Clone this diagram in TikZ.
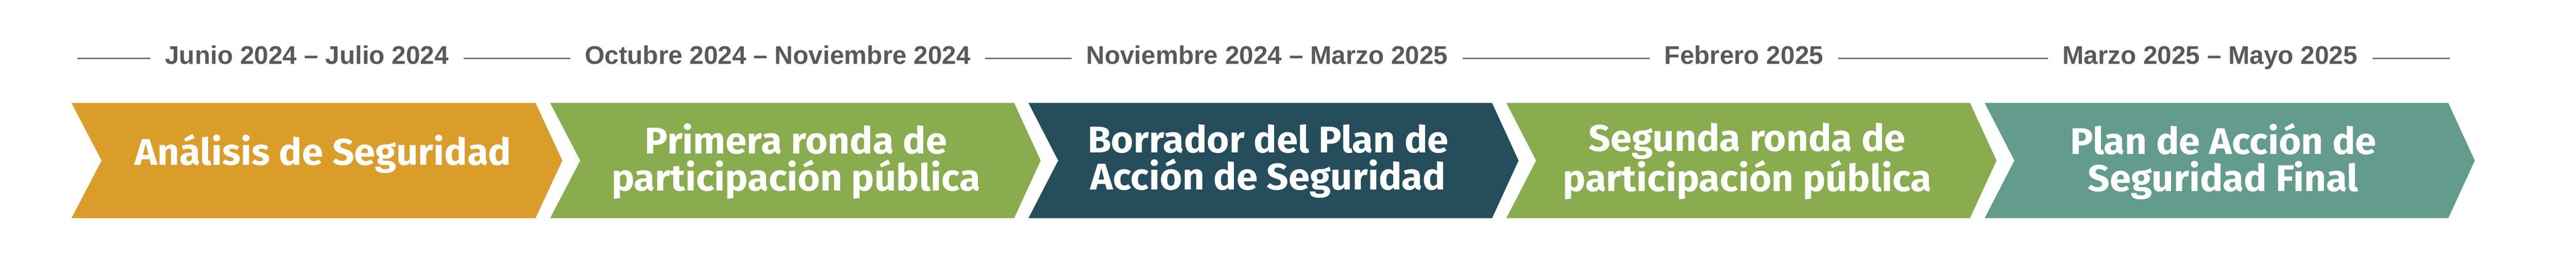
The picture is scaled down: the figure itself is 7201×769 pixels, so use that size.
\documentclass[tikz,border=0pt]{standalone}
\usepackage{fontspec}
\setmainfont{Liberation Sans}
\newfontfamily\stepfont{Fira Sans}[FakeStretch=1.03]
\usetikzlibrary{calc}

\definecolor{ochre}{RGB}{219,157,42}
\definecolor{leaf}{RGB}{136,172,78}
\definecolor{slate}{RGB}{37,77,92}
\definecolor{sage}{RGB}{99,156,140}
\definecolor{datefg}{RGB}{88,89,91}
\definecolor{rulefg}{RGB}{120,120,123}

\tikzset{
	steptext/.style={text=white, align=center, inner sep=0pt, font=\stepfont\bfseries\fontsize{29.6}{29.6}\selectfont},
	datetext/.style={anchor=base, text=datefg, fill=white, inner xsep=4.1mm, inner ysep=0pt, font=\bfseries\fontsize{20.3}{22}\selectfont},
}

\begin{document}
\begin{tikzpicture}[x=0.1mm, y=-0.1mm]
			%%%%% START %%%%%
			
			\useasboundingbox (0, 0) rectangle (7201, 769);
			
			% timeline rule
			\coordinate (rule west) at (216, 163);
			\coordinate (rule east) at (6848, 163);
			\draw[line width=0.45mm, color=rulefg] (rule west) -- (rule east);
			
			% chevrons
			\fill[ochre] (200, 288) -- (1497, 288) -- (1572, 449) -- (1497, 610) -- (200, 610) -- (284, 449) -- cycle;
			\fill[leaf] (1538, 288) -- (2835, 288) -- (2909, 449) -- (2835, 610) -- (1538, 610) -- (1622, 449) -- cycle;
			\fill[slate] (2875, 288) -- (4171, 288) -- (4245, 449) -- (4171, 610) -- (2875, 610) -- (2958, 449) -- cycle;
			\fill[leaf] (4211, 288) -- (5507, 288) -- (5581, 449) -- (5507, 610) -- (4211, 610) -- (4294, 449) -- cycle;
			\fill[sage] (5548, 288) -- (6844, 288) -- (6918, 449) -- (6844, 610) -- (5548, 610) -- (5631, 449) -- cycle;
			
			% step names
			\node[steptext] (analisis) at (903, 430) {Análisis de Seguridad};
			\node[steptext] (ronda uno) at (2225, 451) {Primera ronda de\\participación pública};
			\node[steptext] (borrador) at (3545, 451) {Borrador del Plan de\\Acción de Seguridad};
			\node[steptext] (ronda dos) at (4884, 451) {Segunda ronda de\\participación pública};
			\node[steptext] (plan final) at (6215, 451) {Plan de Acción de\\Seguridad Final};
			
			% dates
			\node[datetext] (fecha analisis) at (858, 180) {Junio 2024 – Julio 2024};
			\node[datetext] (fecha ronda uno) at (2174, 180) {Octubre 2024 – Noviembre 2024};
			\node[datetext] (fecha borrador) at (3542, 180) {Noviembre 2024 – Marzo 2025};
			\node[datetext] (fecha ronda dos) at (4875, 180) {Febrero 2025};
			\node[datetext] (fecha plan final) at (6178, 180) {Marzo 2025 – Mayo 2025};
			
			%%%%% END %%%%%
\end{tikzpicture}
\end{document}
